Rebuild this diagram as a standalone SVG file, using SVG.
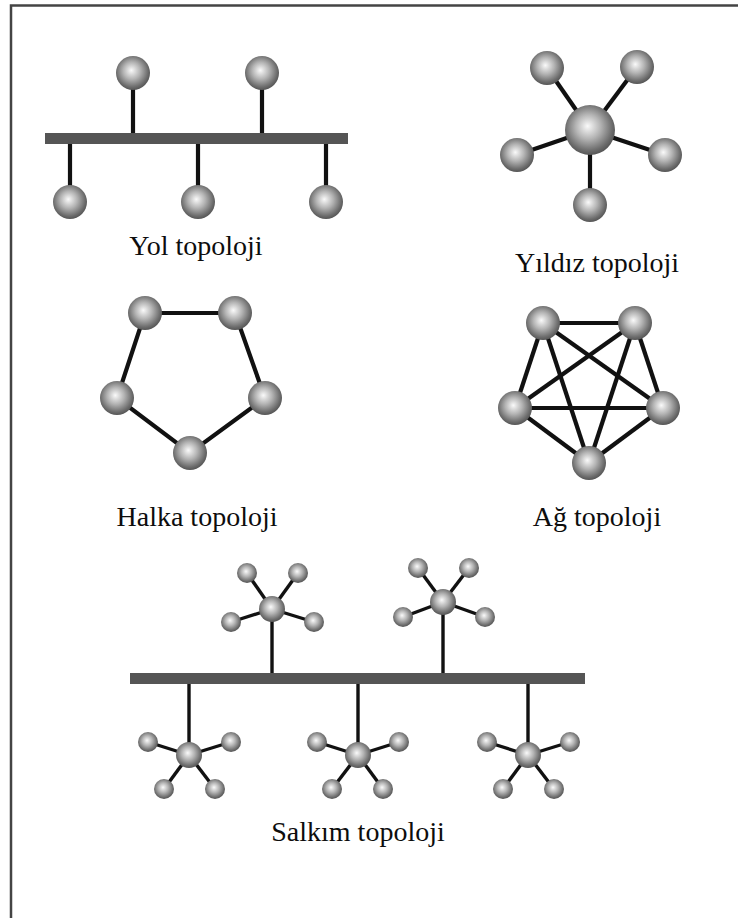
<svg xmlns="http://www.w3.org/2000/svg" width="738" height="918" viewBox="0 0 738 918">
  <defs>
    <radialGradient id="ball" cx="48%" cy="45%" r="55%" fx="45%" fy="42%">
      <stop offset="0" stop-color="#fafafa"/>
      <stop offset="0.45" stop-color="#b4b4b4"/>
      <stop offset="0.85" stop-color="#6c6c6c"/>
      <stop offset="1" stop-color="#555"/>
    </radialGradient>
  </defs>
  <style>
    .frame { fill: none; stroke: #444; stroke-width: 2.5; }
    .bus { fill: #555; }
    .link { stroke: #111; stroke-width: 4.2; fill: none; }
    .thin { stroke: #111; stroke-width: 3.4; fill: none; }
    .node { fill: url(#ball); }
    .label { font-family: "Liberation Serif", "Times New Roman", serif; font-size: 28px; fill: #0d0d0d; text-anchor: middle; }
  </style>

  <rect width="738" height="918" fill="#fff"/>
  <!-- open frame: top and left edges only -->
  <path class="frame" d="M11 918 V5.5 H738"/>

  <!-- connectors -->
  <g id="connectors">
    <!-- bus topology -->
    <rect class="bus" x="45" y="133" width="303" height="11"/>
    <line class="link" x1="133" y1="73" x2="133" y2="133"/>
    <line class="link" x1="262" y1="73" x2="262" y2="133"/>
    <line class="link" x1="70" y1="144" x2="70" y2="202"/>
    <line class="link" x1="198" y1="144" x2="198" y2="202"/>
    <line class="link" x1="326" y1="144" x2="326" y2="202"/>
    <!-- star topology -->
    <line class="link" x1="590" y1="130" x2="547" y2="68"/>
    <line class="link" x1="590" y1="130" x2="637" y2="67"/>
    <line class="link" x1="590" y1="130" x2="517" y2="155"/>
    <line class="link" x1="590" y1="130" x2="665" y2="155"/>
    <line class="link" x1="590" y1="130" x2="590" y2="205"/>
    <!-- ring topology -->
    <polygon class="link" points="145,313 235,313 265,398 190,453 117,398"/>
    <!-- mesh topology -->
    <g class="link">
      <line x1="543" y1="323" x2="635" y2="323"/>
      <line x1="543" y1="323" x2="515" y2="408"/>
      <line x1="543" y1="323" x2="663" y2="408"/>
      <line x1="543" y1="323" x2="589" y2="463"/>
      <line x1="635" y1="323" x2="515" y2="408"/>
      <line x1="635" y1="323" x2="663" y2="408"/>
      <line x1="635" y1="323" x2="589" y2="463"/>
      <line x1="515" y1="408" x2="663" y2="408"/>
      <line x1="515" y1="408" x2="589" y2="463"/>
      <line x1="663" y1="408" x2="589" y2="463"/>
    </g>
    <!-- cluster topology -->
    <rect class="bus" x="130" y="673" width="455" height="11"/>
    <g class="thin">
      <line x1="272" y1="609" x2="272" y2="673"/>
      <line x1="443" y1="602" x2="443" y2="673"/>
      <line x1="189" y1="684" x2="189" y2="755"/>
      <line x1="358" y1="684" x2="358" y2="755"/>
      <line x1="528" y1="684" x2="528" y2="755"/>
      <!-- upper clusters -->
      <line x1="272" y1="609" x2="247" y2="573"/>
      <line x1="272" y1="609" x2="298" y2="573"/>
      <line x1="272" y1="609" x2="231" y2="622"/>
      <line x1="272" y1="609" x2="314" y2="622"/>
      <line x1="443" y1="602" x2="418" y2="568"/>
      <line x1="443" y1="602" x2="469" y2="568"/>
      <line x1="443" y1="602" x2="403" y2="617"/>
      <line x1="443" y1="602" x2="485" y2="617"/>
      <!-- lower clusters -->
      <line x1="189" y1="755" x2="148" y2="742"/>
      <line x1="189" y1="755" x2="231" y2="742"/>
      <line x1="189" y1="755" x2="164" y2="789"/>
      <line x1="189" y1="755" x2="215" y2="789"/>
      <line x1="358" y1="755" x2="317" y2="742"/>
      <line x1="358" y1="755" x2="399" y2="742"/>
      <line x1="358" y1="755" x2="332" y2="789"/>
      <line x1="358" y1="755" x2="383" y2="789"/>
      <line x1="528" y1="755" x2="487" y2="742"/>
      <line x1="528" y1="755" x2="570" y2="742"/>
      <line x1="528" y1="755" x2="503" y2="789"/>
      <line x1="528" y1="755" x2="554" y2="789"/>
    </g>
  </g>

  <!-- bus topology nodes -->
  <g id="bus-topology">
    <circle class="node" cx="133" cy="73" r="17"/>
    <circle class="node" cx="262" cy="73" r="17"/>
    <circle class="node" cx="70" cy="202" r="17"/>
    <circle class="node" cx="198" cy="202" r="17"/>
    <circle class="node" cx="326" cy="202" r="17"/>
    <text class="label" x="196" y="255">Yol topoloji</text>
  </g>

  <!-- star topology nodes -->
  <g id="star-topology">
    <circle class="node" cx="547" cy="68" r="17"/>
    <circle class="node" cx="637" cy="67" r="17"/>
    <circle class="node" cx="517" cy="155" r="17"/>
    <circle class="node" cx="665" cy="155" r="17"/>
    <circle class="node" cx="590" cy="205" r="17"/>
    <circle class="node" cx="590" cy="130" r="25"/>
    <text class="label" x="597" y="272">Yıldız topoloji</text>
  </g>

  <!-- ring topology nodes -->
  <g id="ring-topology">
    <circle class="node" cx="145" cy="313" r="17"/>
    <circle class="node" cx="235" cy="313" r="17"/>
    <circle class="node" cx="265" cy="398" r="17"/>
    <circle class="node" cx="190" cy="453" r="17"/>
    <circle class="node" cx="117" cy="398" r="17"/>
    <text class="label" x="197" y="526">Halka topoloji</text>
  </g>

  <!-- mesh topology nodes -->
  <g id="mesh-topology">
    <circle class="node" cx="543" cy="323" r="17"/>
    <circle class="node" cx="635" cy="323" r="17"/>
    <circle class="node" cx="515" cy="408" r="17"/>
    <circle class="node" cx="663" cy="408" r="17"/>
    <circle class="node" cx="589" cy="463" r="17"/>
    <text class="label" x="597" y="526">Ağ topoloji</text>
  </g>

  <!-- cluster topology nodes -->
  <g id="cluster-topology">
    <g id="cluster-top-1">
      <circle class="node" cx="247" cy="573" r="10"/>
      <circle class="node" cx="298" cy="573" r="10"/>
      <circle class="node" cx="231" cy="622" r="10"/>
      <circle class="node" cx="314" cy="622" r="10"/>
      <circle class="node" cx="272" cy="609" r="13"/>
    </g>
    <g id="cluster-top-2">
      <circle class="node" cx="418" cy="568" r="10"/>
      <circle class="node" cx="469" cy="568" r="10"/>
      <circle class="node" cx="403" cy="617" r="10"/>
      <circle class="node" cx="485" cy="617" r="10"/>
      <circle class="node" cx="443" cy="602" r="13"/>
    </g>
    <g id="cluster-bottom-1">
      <circle class="node" cx="148" cy="742" r="10"/>
      <circle class="node" cx="231" cy="742" r="10"/>
      <circle class="node" cx="164" cy="789" r="10"/>
      <circle class="node" cx="215" cy="789" r="10"/>
      <circle class="node" cx="189" cy="755" r="13"/>
    </g>
    <g id="cluster-bottom-2">
      <circle class="node" cx="317" cy="742" r="10"/>
      <circle class="node" cx="399" cy="742" r="10"/>
      <circle class="node" cx="332" cy="789" r="10"/>
      <circle class="node" cx="383" cy="789" r="10"/>
      <circle class="node" cx="358" cy="755" r="13"/>
    </g>
    <g id="cluster-bottom-3">
      <circle class="node" cx="487" cy="742" r="10"/>
      <circle class="node" cx="570" cy="742" r="10"/>
      <circle class="node" cx="503" cy="789" r="10"/>
      <circle class="node" cx="554" cy="789" r="10"/>
      <circle class="node" cx="528" cy="755" r="13"/>
    </g>
    <text class="label" x="358" y="841">Salkım topoloji</text>
  </g>
</svg>
